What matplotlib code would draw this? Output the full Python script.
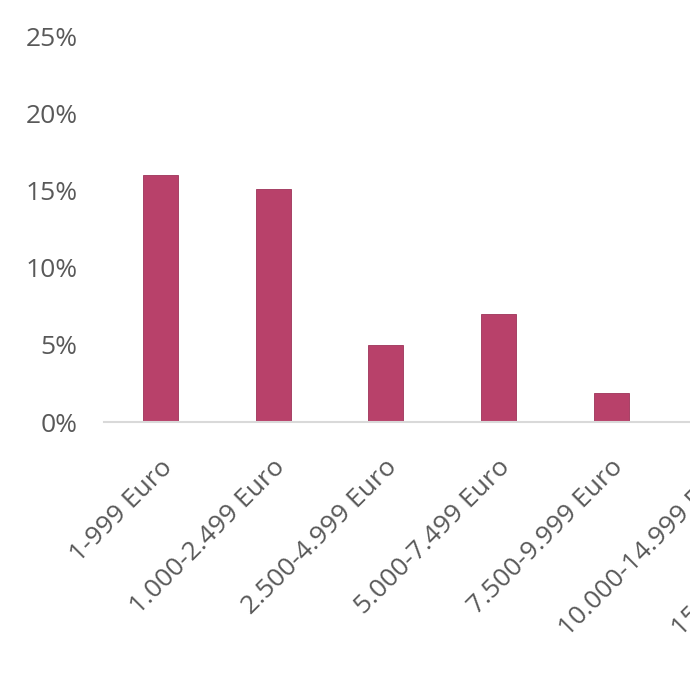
import numpy as np
import matplotlib
matplotlib.use("Agg")
import matplotlib.pyplot as plt
import matplotlib.transforms as mtransforms
from matplotlib.ticker import PercentFormatter

# income brackets (chart is cropped on the right, last two bars are not visible)
categories = ["1-999 Euro", "1.000-2.499 Euro", "2.500-4.999 Euro",
              "5.000-7.499 Euro", "7.500-9.999 Euro", "10.000-14.999 Euro",
              "15.000-19.999 Euro"]
shares = [16.0, 15.1, 5.0, 7.0, 1.9, np.nan, np.nan]
y_ticks = [0, 5, 10, 15, 20, 25]

bar_color = "#b8416a"
text_color = "#595959"

plt.rcParams['font.family'] = ['Open Sans', 'DejaVu Sans']

fig = plt.figure(figsize=(6.9, 6.9), dpi=100)
W = H = 690.0
# axes run past the right edge, like the cropped original
ax = fig.add_axes([104 / W, 268 / H, 7 * 112.7 / W, (654 - 268) / H])

x = np.arange(len(categories))
ax.bar(x, shares, width=0.31, color=bar_color, edgecolor="#9e3359", linewidth=0.6)

ax.set_xlim(-0.5, len(categories) - 0.5)
ax.set_ylim(0, 25)
ax.set_yticks(y_ticks)
ax.yaxis.set_major_formatter(PercentFormatter(decimals=0))

for s in ["top", "right", "left"]:
    ax.spines[s].set_visible(False)
ax.spines["bottom"].set_color("#d9d9d9")
ax.spines["bottom"].set_linewidth(1.5)

ax.tick_params(axis="y", length=0, pad=19, labelsize=19, labelcolor=text_color)
ax.tick_params(axis="x", length=0, pad=30, labelsize=19, labelcolor=text_color)
ax.set_xticks(x)
ax.set_xticklabels(categories, rotation=45, ha="right", va="center",
                   rotation_mode="anchor")
shift = mtransforms.ScaledTranslation(8 / 100, 0, fig.dpi_scale_trans)
for lab in ax.get_xticklabels():
    lab.set_transform(lab.get_transform() + shift)

fig.savefig("out.png", dpi=100)
